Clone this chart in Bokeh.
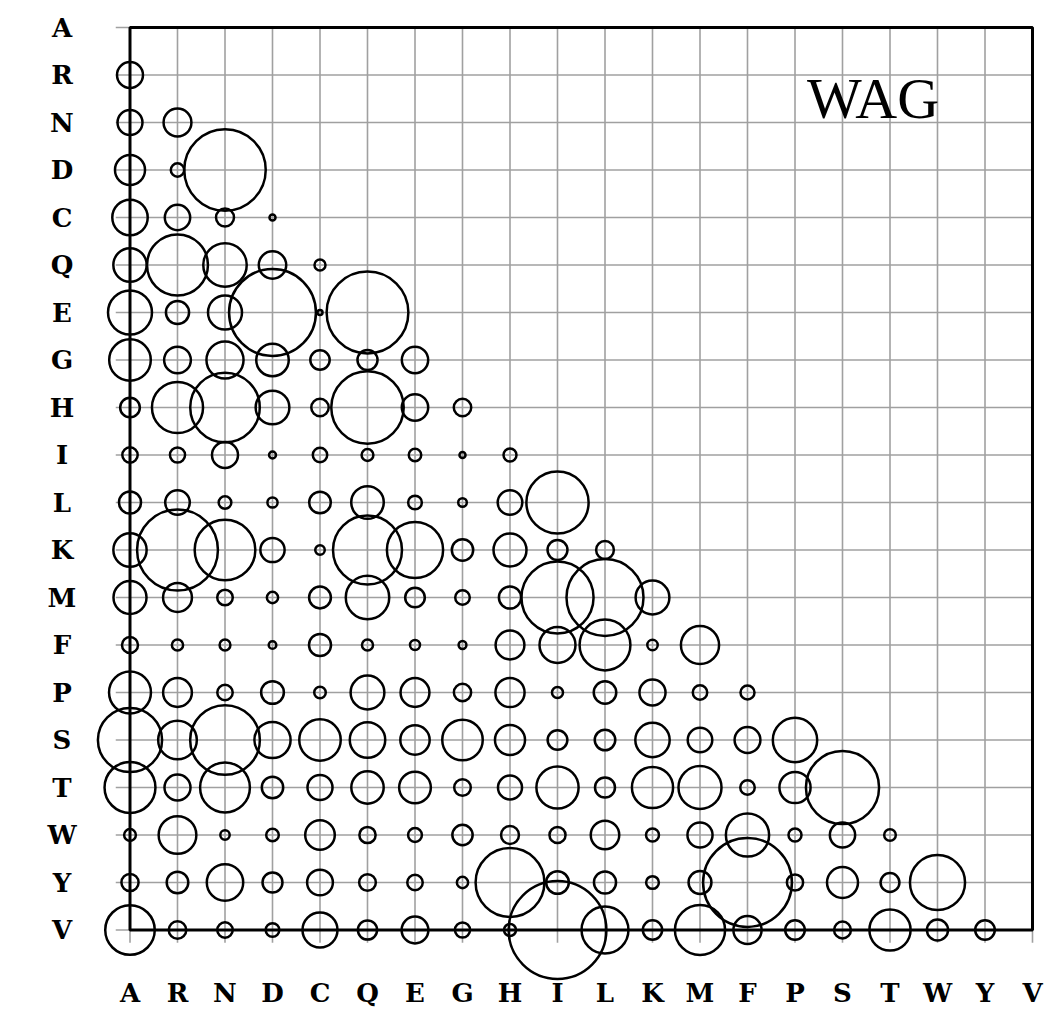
import numpy as np
from bokeh.plotting import figure
from bokeh.models import Range1d, ColumnDataSource
from bokeh.core.properties import value
from bokeh.embed import file_html
from bokeh.resources import INLINE

# Amino-acid order (rows top->bottom, columns left->right)
amino = ["A", "R", "N", "D", "C", "Q", "E", "G", "H", "I",
         "L", "K", "M", "F", "P", "S", "T", "W", "Y", "V"]

# WAG exchangeabilities, lower triangle (row vs. earlier columns)
row_R = [0.552]
row_N = [0.510, 0.635]
row_D = [0.739, 0.147, 5.429]
row_C = [1.027, 0.528, 0.265, 0.030]
row_Q = [0.909, 3.036, 1.544, 0.617, 0.099]
row_E = [1.583, 0.439, 0.947, 6.174, 0.021, 5.469]
row_G = [1.417, 0.585, 1.126, 0.866, 0.307, 0.330, 0.568]
row_H = [0.317, 2.137, 3.956, 0.931, 0.249, 4.294, 0.570, 0.249]
row_I = [0.193, 0.187, 0.554, 0.039, 0.170, 0.114, 0.127, 0.030, 0.138]
row_L = [0.398, 0.498, 0.132, 0.085, 0.384, 0.869, 0.154, 0.061, 0.499, 3.171]
row_K = [0.906, 5.351, 3.012, 0.480, 0.074, 3.895, 2.584, 0.374, 0.890, 0.324, 0.258]
row_M = [0.893, 0.683, 0.198, 0.104, 0.390, 1.545, 0.315, 0.174, 0.404, 4.257, 4.854, 0.934]
row_F = [0.210, 0.103, 0.096, 0.047, 0.398, 0.100, 0.081, 0.050, 0.679, 1.059, 2.115, 0.089, 1.191]
row_P = [1.439, 0.679, 0.195, 0.424, 0.109, 0.933, 0.682, 0.244, 0.696, 0.100, 0.416, 0.557, 0.171, 0.161]
row_S = [3.371, 1.224, 3.974, 1.072, 1.408, 1.029, 0.705, 1.342, 0.740, 0.319, 0.345, 0.967, 0.494, 0.546, 1.613]
row_T = [2.121, 0.554, 2.030, 0.375, 0.513, 0.858, 0.823, 0.226, 0.473, 1.458, 0.327, 1.387, 1.516, 0.172, 0.795, 4.378]
row_W = [0.113, 1.164, 0.072, 0.130, 0.717, 0.216, 0.157, 0.337, 0.263, 0.212, 0.665, 0.138, 0.516, 1.530, 0.139, 0.524, 0.111]
row_Y = [0.241, 0.382, 1.086, 0.326, 0.544, 0.228, 0.196, 0.104, 3.873, 0.420, 0.399, 0.133, 0.428, 6.454, 0.216, 0.787, 0.291, 2.485]
row_V = [2.006, 0.252, 0.196, 0.152, 1.002, 0.301, 0.589, 0.187, 0.118, 7.821, 1.800, 0.305, 2.058, 0.650, 0.315, 0.233, 1.388, 0.365, 0.315]

rows = [row_R, row_N, row_D, row_C, row_Q, row_E, row_G, row_H, row_I, row_L,
        row_K, row_M, row_F, row_P, row_S, row_T, row_W, row_Y, row_V]

title_text = "WAG"

# ---- build circle table ----
xs, ys, vals = [], [], []
for i, row in enumerate(rows, start=1):
    for j, v in enumerate(row):
        xs.append(j)
        ys.append(i)
        vals.append(v)
vals = np.array(vals)
radius_scale = 0.368          # area proportional to value
src = ColumnDataSource(dict(x=xs, y=ys, v=vals, r=radius_scale * np.sqrt(vals)))

n = len(amino)
last = n - 1
idx = list(range(n))

# pixel geometry: one cell = 47.5 px, box starts at (129.5, 27)
cell = 47.5
W, H = 1057, 1009
x0_px, y0_px = 129.5, 27.0

def ypx(py):
    return (py - y0_px) / cell

def xpx(px):
    return (px - x0_px) / cell

p = figure(width=W, height=H,
           x_range=Range1d(-x0_px / cell, (W - x0_px) / cell),
           y_range=Range1d((H - y0_px) / cell, -y0_px / cell),
           x_axis_type=None, y_axis_type=None,
           output_backend="svg", toolbar_location=None,
           min_border=0, min_border_left=0, min_border_right=0,
           min_border_top=0, min_border_bottom=0)
p.outline_line_color = None
p.grid.visible = False
p.background_fill_color = "white"
p.border_fill_color = "white"

grid_col = "#a0a0a0"
# horizontal grid lines (extend slightly left of the box)
p.segment(x0=[-0.3] * n, y0=idx, x1=[last] * n, y1=idx,
          line_color=grid_col, line_width=1.6)
# vertical grid lines (extend slightly below the box)
p.segment(x0=idx, y0=[0] * n, x1=idx, y1=[last + 0.27] * n,
          line_color=grid_col, line_width=1.6)

# frame box
p.quad(left=[0], right=[last], top=[0], bottom=[last],
       fill_color=None, line_color="black", line_width=3)

# bubbles
p.circle(x="x", y="y", radius="r", source=src,
         fill_color=None, line_color="black", line_width=2.5)

# row labels (left) and column labels (bottom)
p.text(x=[xpx(61.5)] * n, y=idx, text=amino,
       text_font=value("DejaVu Serif"), text_font_style="bold",
       text_font_size="26px", text_align="center", text_baseline="middle",
       text_color="black")
p.text(x=idx, y=[ypx(992)] * n, text=amino,
       text_font=value("DejaVu Serif"), text_font_style="bold",
       text_font_size="26px", text_align="center", text_baseline="middle",
       text_color="black")

# title inside the plot
p.text(x=[xpx(872.5)], y=[ypx(98)], text=[title_text],
       text_font=value("Liberation Serif"), text_font_size="58px",
       text_align="center", text_baseline="middle", text_color="black")

open("out.html", "w").write(file_html(p, INLINE))
